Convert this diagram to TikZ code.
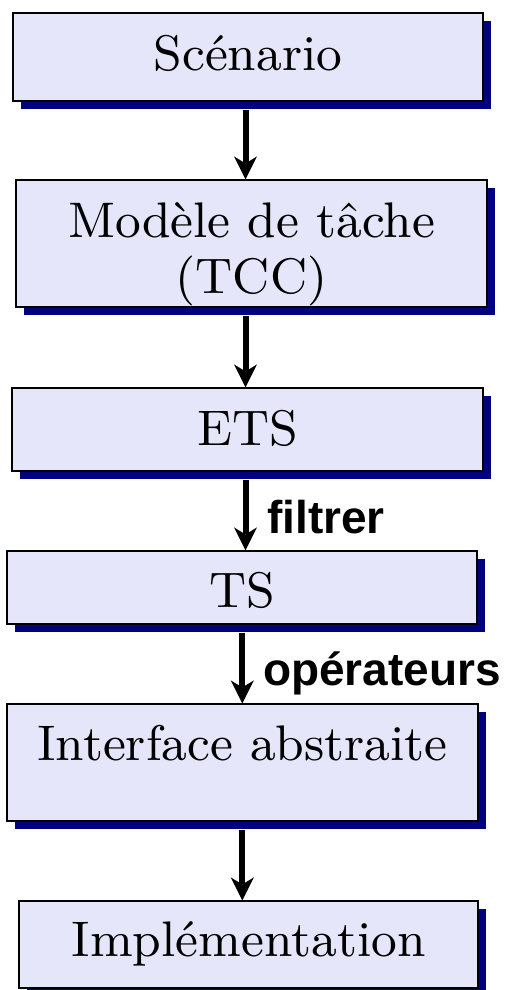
\documentclass[tikz,border=0pt]{standalone}
\usepackage{fontspec}
\newfontfamily\lblfont{Liberation Sans}
\newfontfamily\boxfont{lmroman9-regular}[Extension=.otf]
\usetikzlibrary{shadows,arrows.meta}
\definecolor{boxfill}{RGB}{230,230,250}
\definecolor{shadownavy}{RGB}{0,0,128}
\begin{document}
\begin{tikzpicture}[x=1pt,y=-1pt,
  box/.style={draw=black, line width=1.2pt, fill=boxfill, inner sep=0pt,
    font=\boxfont\fontsize{50}{56}\selectfont, text height=45pt,
    drop shadow={shadow xshift=8pt,shadow yshift=-8pt,fill=shadownavy,opacity=1}},
  arr/.style={line width=6pt, -{Stealth[length=23pt,width=23pt,inset=7pt,line width=0pt]}},
  lbl/.style={font=\lblfont\bfseries\fontsize{46}{50}\selectfont, anchor=base west, inner sep=0pt}]
\useasboundingbox (0,0) rectangle (506,990);
\node[box, minimum width=470pt, minimum height=88pt, text depth=18.8pt] (scen) at (248,57) {Scénario};
\node[box, align=center, minimum width=471pt, minimum height=127pt, text height=110pt, text depth=11pt] (tache) at (251.5,243.5) {Modèle de tâche\\(TCC)};
\node[box, minimum width=471pt, minimum height=83pt, text depth=14pt] (ets) at (247.5,429.5) {ETS};
\node[box, minimum width=470pt, minimum height=73pt, text depth=4.6pt] (ts) at (242,587.5) {TS};
\node[box, minimum width=471pt, minimum height=117pt, text depth=50pt] (abs) at (242.5,762.5) {Interface abstraite};
\node[box, minimum width=459pt, minimum height=87pt, text depth=20.6pt] (impl) at (248.5,944.5) {Implémentation};
\coordinate (xa) at (245.5,0);
\coordinate (xb) at (242.3,0);
\draw[arr] ([yshift=-8pt]scen.south -| xa) -- (tache.north -| xa);
\draw[arr] ([yshift=-8pt]tache.south -| xa) -- (ets.north -| xa);
\draw[arr] ([yshift=-8pt]ets.south -| xa) -- (ts.north -| xa);
\draw[arr] ([yshift=-8pt]ts.south -| xb) -- (abs.north -| xb);
\draw[arr] ([yshift=-8pt]abs.south -| xb) -- (impl.north -| xb);
\node[lbl] (filt) at (267,533) {filtrer};
\node[lbl] (oper) at (263,685) {opérateurs};
\end{tikzpicture}
\end{document}
